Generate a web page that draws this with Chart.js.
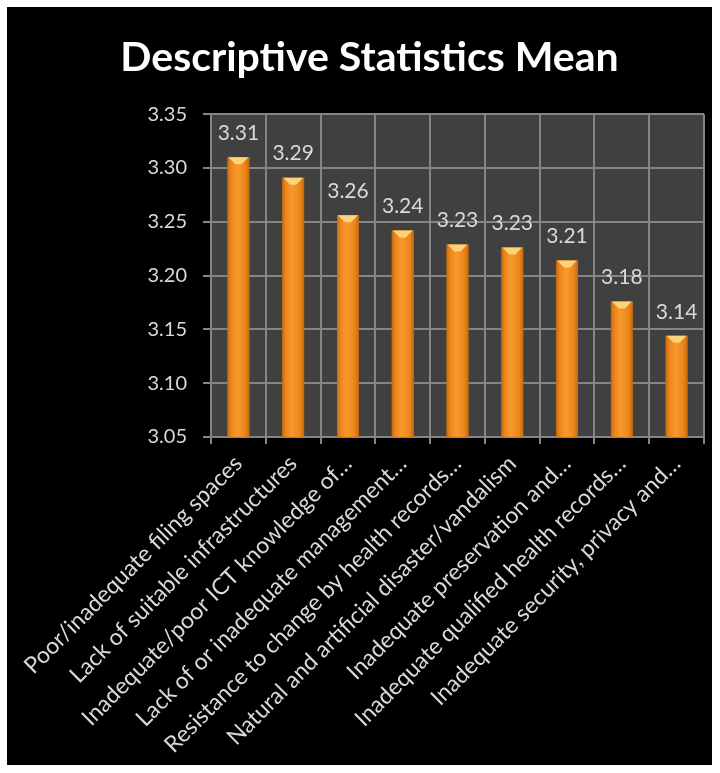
<!DOCTYPE html>
<html>
<head>
<meta charset="utf-8">
<script src="https://cdn.jsdelivr.net/npm/chart.js@4.4.1/dist/chart.umd.min.js"></script>
<style>
  html, body { margin: 0; padding: 0; background: #fff; }
  #box { position: absolute; left: 7px; top: 7px; width: 705px; height: 758px; background: #000; }
  canvas { display: block; }
</style>
</head>
<body>
<div id="box"><canvas id="chart" width="705" height="758"></canvas></div>
<script>
const categories = [
  'Poor/inadequate filing spaces',
  'Lack of suitable infrastructures',
  'Inadequate/poor ICT knowledge of…',
  'Lack of or inadequate management…',
  'Resistance to change by health records…',
  'Natural and artificial disaster/vandalism',
  'Inadequate preservation and…',
  'Inadequate qualified health records…',
  'Inadequate security, privacy and…'
];
const means = [3.31, 3.291, 3.256, 3.242, 3.229, 3.226, 3.214, 3.176, 3.144];
const yMin = 3.05;
const yMax = 3.35;
const yStep = 0.05;

const labelFont = 'Lato, "Open Sans", sans-serif';

// dark plot area behind the bars
const plotBackground = {
  id: 'plotBackground',
  beforeDraw(chart) {
    const { ctx, chartArea: a } = chart;
    ctx.save();
    ctx.fillStyle = '#404040';
    ctx.fillRect(a.left, a.top, a.right - a.left, a.bottom - a.top);
    ctx.restore();
  }
};

// cylinder-ish shading on the bars, then the value labels
const barDecor = {
  id: 'barDecor',
  afterDatasetsDraw(chart) {
    const ctx = chart.ctx;
    const bottom = chart.chartArea.bottom;
    const meta = chart.getDatasetMeta(0);
    ctx.save();
    meta.data.forEach((bar, i) => {
      const left = bar.x - bar.width / 2;
      const right = bar.x + bar.width / 2;
      const g = ctx.createLinearGradient(left, 0, right, 0);
      g.addColorStop(0, 'rgba(150,70,0,0.55)');
      g.addColorStop(0.15, 'rgba(190,95,10,0.25)');
      g.addColorStop(0.45, 'rgba(255,190,110,0.18)');
      g.addColorStop(0.8, 'rgba(190,95,10,0.2)');
      g.addColorStop(1, 'rgba(150,70,0,0.55)');
      ctx.fillStyle = g;
      ctx.fillRect(left, bar.y, bar.width, bottom - bar.y);

      // light cap at the top
      ctx.fillStyle = '#ffd27a';
      ctx.beginPath();
      ctx.moveTo(left + 1, bar.y);
      ctx.lineTo(right - 1, bar.y);
      ctx.lineTo(bar.x + 3, bar.y + 7);
      ctx.lineTo(bar.x - 3, bar.y + 7);
      ctx.closePath();
      ctx.fill();

      ctx.font = '21px ' + labelFont;
      ctx.fillStyle = '#d9d9d9';
      ctx.textAlign = 'center';
      ctx.textBaseline = 'middle';
      ctx.fillText(means[i].toFixed(2), bar.x, bar.y - 24);
    });
    ctx.restore();
  }
};

new Chart(document.getElementById('chart'), {
  type: 'bar',
  data: {
    labels: categories,
    datasets: [{
      data: means,
      backgroundColor: '#f7901e',
      borderWidth: 0,
      barPercentage: 0.4,
      categoryPercentage: 1
    }]
  },
  options: {
    responsive: false,
    animation: false,
    layout: { padding: { top: 0, right: 8, left: 28, bottom: 0 } },
    plugins: {
      legend: { display: false },
      tooltip: { enabled: false },
      title: {
        display: true,
        text: 'Descriptive Statistics Mean',
        color: '#ffffff',
        font: { family: labelFont, size: 41, weight: 'bold' },
        padding: { top: 26, bottom: 32 }
      }
    },
    scales: {
      y: {
        min: yMin,
        max: yMax,
        ticks: {
          stepSize: yStep,
          color: '#d9d9d9',
          font: { family: labelFont, size: 20 },
          padding: 16,
          callback: v => v.toFixed(2)
        },
        grid: { color: '#858585', lineWidth: 2, tickLength: 8 },
        border: { color: '#858585', width: 2 },
        afterFit: s => { s.width = 176; }
      },
      x: {
        ticks: {
          color: '#d9d9d9',
          font: { family: labelFont, size: 23 },
          minRotation: 45,
          maxRotation: 45,
          autoSkip: false,
          padding: 6
        },
        grid: { color: '#858585', lineWidth: 2, tickLength: 7, offset: true },
        border: { color: '#858585', width: 2 },
        afterFit: s => { s.height = 328; }
      }
    }
  },
  plugins: [plotBackground, barDecor]
});
</script>
</body>
</html>
